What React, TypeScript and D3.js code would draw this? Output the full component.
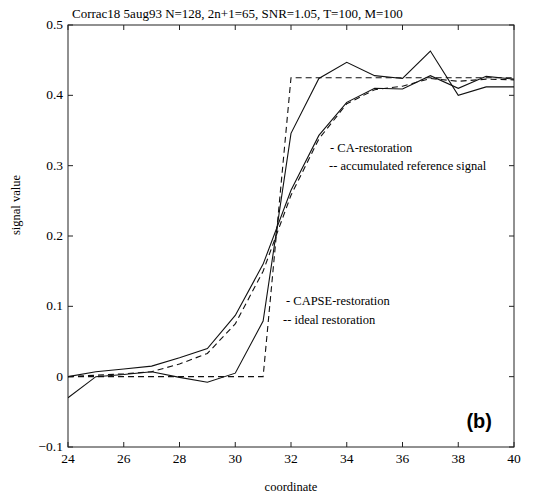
import React, { useEffect, useRef } from "react";
import * as d3 from "d3";

// coordinates 24..40
const coords = [24, 25, 26, 27, 28, 29, 30, 31, 32, 33, 34, 35, 36, 37, 38, 39, 40];

const capse = [-0.03, 0.0, 0.003, 0.007, -0.001, -0.008, 0.005, 0.079, 0.346, 0.424, 0.447, 0.428, 0.424, 0.463, 0.4, 0.412, 0.412];
const ideal = [0, 0, 0, 0, 0, 0, 0, 0, 0.425, 0.425, 0.425, 0.425, 0.425, 0.425, 0.425, 0.425, 0.425];
const ca = [0.0, 0.007, 0.011, 0.015, 0.027, 0.04, 0.087, 0.16, 0.265, 0.343, 0.39, 0.41, 0.409, 0.428, 0.41, 0.427, 0.423];
const accumulated = [0.0, 0.002, 0.004, 0.007, 0.018, 0.033, 0.075, 0.15, 0.258, 0.338, 0.388, 0.408, 0.413, 0.424, 0.42, 0.423, 0.422];

const xTicks = [24, 26, 28, 30, 32, 34, 36, 38, 40];
const yTicks = [-0.1, 0, 0.1, 0.2, 0.3, 0.4, 0.5];

const title = "Corrac18 5aug93 N=128, 2n+1=65, SNR=1.05, T=100, M=100";

const serif = "'Liberation Serif', 'DejaVu Serif', serif";

export default function App() {
    const ref = useRef<SVGSVGElement>(null);

    useEffect(() => {
        const width = 536;
        const height = 497;
        const margin = { left: 68, right: 22, top: 25, bottom: 50 };

        const svg = d3.select(ref.current);
        svg.selectAll("*").remove();

        const x = d3.scaleLinear().domain([24, 40]).range([margin.left, width - margin.right]);
        const y = d3.scaleLinear().domain([-0.1, 0.5]).range([height - margin.bottom, margin.top]);

        // frame
        svg.append("rect")
            .attr("x", x(24))
            .attr("y", y(0.5))
            .attr("width", x(40) - x(24))
            .attr("height", y(-0.1) - y(0.5))
            .attr("fill", "none")
            .attr("stroke", "#222")
            .attr("stroke-width", 1);

        // inward ticks, MATLAB style
        const tl = 5;
        const ticks = svg.append("g").attr("stroke", "#222").attr("stroke-width", 1);
        xTicks.forEach((t) => {
            ticks.append("line").attr("x1", x(t)).attr("x2", x(t)).attr("y1", y(-0.1)).attr("y2", y(-0.1) - tl);
            ticks.append("line").attr("x1", x(t)).attr("x2", x(t)).attr("y1", y(0.5)).attr("y2", y(0.5) + tl);
        });
        yTicks.forEach((t) => {
            ticks.append("line").attr("x1", x(24)).attr("x2", x(24) + tl).attr("y1", y(t)).attr("y2", y(t));
            ticks.append("line").attr("x1", x(40)).attr("x2", x(40) - tl).attr("y1", y(t)).attr("y2", y(t));
        });

        svg.append("g")
            .selectAll("text")
            .data(xTicks)
            .join("text")
            .attr("x", (d) => x(d))
            .attr("y", y(-0.1) + 16)
            .attr("text-anchor", "middle")
            .attr("font-family", serif)
            .attr("font-size", 13.5)
            .text((d) => d);

        svg.append("g")
            .selectAll("text")
            .data(yTicks)
            .join("text")
            .attr("x", x(24) - 5)
            .attr("y", (d) => y(d) + 4)
            .attr("text-anchor", "end")
            .attr("font-family", serif)
            .attr("font-size", 13.5)
            .text((d) => (d === 0 ? "0" : d3.format(".1f")(d)));

        // lines
        const clip = svg.append("clipPath").attr("id", "plotclip");
        clip.append("rect")
            .attr("x", x(24))
            .attr("y", y(0.5))
            .attr("width", x(40) - x(24))
            .attr("height", y(-0.1) - y(0.5));

        const line = d3
            .line<number>()
            .x((d, i) => x(coords[i]))
            .y((d) => y(d));

        const series = [
            { values: capse, dash: null },
            { values: ca, dash: null },
            { values: ideal, dash: "6,4" },
            { values: accumulated, dash: "6,4" },
        ];

        svg.append("g")
            .attr("clip-path", "url(#plotclip)")
            .selectAll("path")
            .data(series)
            .join("path")
            .attr("d", (s) => line(s.values))
            .attr("fill", "none")
            .attr("stroke", "#111")
            .attr("stroke-width", 1.1)
            .attr("stroke-dasharray", (s) => s.dash);

        // annotations
        const notes = [
            { t: "- CA-restoration", x: 330, y: 152 },
            { t: "-- accumulated reference signal", x: 329, y: 170 },
            { t: "- CAPSE-restoration", x: 286, y: 305 },
            { t: "-- ideal restoration", x: 283, y: 324 },
        ];
        svg.append("g")
            .selectAll("text")
            .data(notes)
            .join("text")
            .attr("x", (d) => d.x)
            .attr("y", (d) => d.y)
            .attr("font-family", serif)
            .attr("font-size", 12.5)
            .text((d) => d.t);

        svg.append("text")
            .attr("x", 72)
            .attr("y", 18)
            .attr("font-family", serif)
            .attr("font-size", 13)
            .text(title);

        svg.append("text")
            .attr("x", 291)
            .attr("y", 491)
            .attr("text-anchor", "middle")
            .attr("font-family", serif)
            .attr("font-size", 12.5)
            .text("coordinate");

        svg.append("text")
            .attr("transform", "translate(20,205) rotate(-90)")
            .attr("text-anchor", "middle")
            .attr("font-family", serif)
            .attr("font-size", 12.5)
            .text("signal value");

        svg.append("text")
            .attr("x", 492)
            .attr("y", 428)
            .attr("text-anchor", "end")
            .attr("font-family", "'Liberation Sans', Arial, sans-serif")
            .attr("font-weight", "bold")
            .attr("font-size", 20)
            .text("(b)");
    }, []);

    return (
        <svg
            ref={ref}
            width={536}
            height={497}
            style={{ position: "absolute", left: 0, top: 0, background: "#fff" }}
        />
    );
}
